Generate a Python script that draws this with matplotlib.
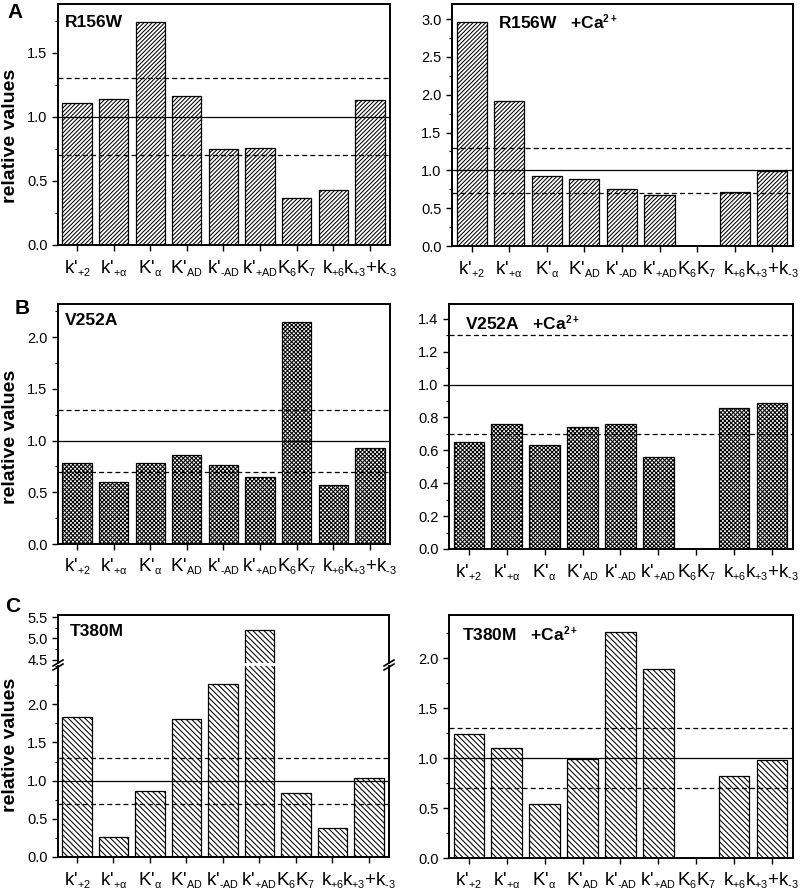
import numpy as np
import matplotlib
matplotlib.use("Agg")
import matplotlib.pyplot as plt
import matplotlib._mathtext as mt
from matplotlib.ticker import MultipleLocator, FixedLocator, FormatStrFormatter

plt.rcParams["font.family"] = ["Liberation Sans", "DejaVu Sans"]
plt.rcParams["mathtext.fontset"] = "custom"
plt.rcParams["mathtext.rm"] = "Liberation Sans"
plt.rcParams["mathtext.it"] = "Liberation Sans"
plt.rcParams["mathtext.bf"] = "Liberation Sans:bold"
plt.rcParams["hatch.linewidth"] = 0.75
# smaller subscripts, closer to the original typesetting
mt.SHRINK_FACTOR = 0.58

# ------------------------------------------------------------
# data
# ------------------------------------------------------------
labels = ["k'$_{+2}$", "k'$_{+α}$", "K'$_{α}$", "K'$_{AD}$", "k'$_{\\text{-}AD}$",
          "k'$_{+AD}$", "K$_6$K$_7$", "k$_{+6}$", "k$_{+3}$+k$_{\\text{-}3}$"]

r156w = [1.11, 1.14, 1.74, 1.16, 0.75, 0.76, 0.37, 0.43, 1.13]
r156w_ca = [2.96, 1.92, 0.92, 0.88, 0.75, 0.67, np.nan, 0.72, 0.99]
v252a = [0.78, 0.60, 0.78, 0.86, 0.76, 0.65, 2.15, 0.57, 0.93]
v252a_ca = [0.65, 0.76, 0.63, 0.74, 0.76, 0.56, np.nan, 0.86, 0.89]
t380m = [1.83, 0.26, 0.86, 1.80, 2.26, 5.19, 0.84, 0.38, 1.04]
t380m_ca = [1.24, 1.10, 0.54, 0.99, 2.26, 1.89, np.nan, 0.82, 0.98]

ref_solid = 1.0
ref_dashed = [1.3, 0.7]

W, H = 800, 891
fig = plt.figure(figsize=(W / 100, H / 100), dpi=100)


def px_axes(x0, y0, x1, y1):
    """axes from pixel box (top-left origin)"""
    return fig.add_axes([x0 / W, 1 - y1 / H, (x1 - x0) / W, (y1 - y0) / H])


def style(ax, major, minor, ymax, ymin=0.0):
    x = np.arange(len(labels))
    ax.set_xlim(-0.52, 8.55)
    ax.set_ylim(ymin, ymax)
    ax.set_xticks(x)
    ax.set_xticklabels(labels, fontsize=13.5)
    ax.yaxis.set_major_locator(MultipleLocator(major))
    ax.yaxis.set_minor_locator(MultipleLocator(minor))
    ax.yaxis.set_major_formatter(FormatStrFormatter("%.1f"))
    ax.tick_params(axis="y", which="major", direction="out", length=4, width=1,
                   labelsize=10.5, right=False)
    ax.tick_params(axis="y", which="minor", direction="out", length=2, width=0.8, right=False)
    ax.tick_params(axis="x", direction="out", length=4, width=1, pad=5, top=False)
    for s in ax.spines.values():
        s.set_linewidth(1.4)


def bars(ax, vals, hatch):
    x = np.arange(len(labels))
    ax.bar(x, vals, width=0.8, color="white", edgecolor="black",
           linewidth=0.9, hatch=hatch, zorder=2)


def ref_lines(ax):
    ax.axhline(ref_solid, color="black", lw=0.9, zorder=3)
    for v in ref_dashed:
        ax.axhline(v, color="black", lw=0.9, ls=(0, (4, 2.5)), zorder=3)


HATCH_A = "/" * 8
HATCH_B = "x" * 8
HATCH_C = "\\" * 6

# ---------------- row A ----------------
ax = px_axes(58, 4, 390, 245)
bars(ax, r156w, HATCH_A)
ref_lines(ax)
style(ax, 0.5, 0.25, 1.88)
ax.text(0.02, 0.925, "R156W", transform=ax.transAxes, fontsize=12.5,
        fontweight="bold", va="center")

ax = px_axes(452, 4, 793, 246)
bars(ax, r156w_ca, HATCH_A)
ref_lines(ax)
style(ax, 0.5, 0.25, 3.2)
ax.text(0.135, 0.925, "R156W   +Ca$^{\\mathbf{2+}}$", transform=ax.transAxes,
        fontsize=12.5, fontweight="bold", va="center")

# ---------------- row B ----------------
ax = px_axes(58, 304, 390, 544)
bars(ax, v252a, HATCH_B)
ref_lines(ax)
style(ax, 0.5, 0.25, 2.32)
ax.text(0.02, 0.93, "V252A", transform=ax.transAxes, fontsize=12.5,
        fontweight="bold", va="center")

ax = px_axes(449, 304, 793, 549)
bars(ax, v252a_ca, HATCH_B)
ref_lines(ax)
style(ax, 0.2, 0.1, 1.49)
ax.text(0.047, 0.92, "V252A   +Ca$^{\\mathbf{2+}}$", transform=ax.transAxes,
        fontsize=12.5, fontweight="bold", va="center")

# ---------------- row C (broken axis on the left) ----------------
ax_lo = px_axes(58, 666, 389, 857)
bars(ax_lo, t380m, HATCH_C)
ref_lines(ax_lo)
style(ax_lo, 0.5, 0.25, 2.5)
ax_lo.yaxis.set_major_locator(FixedLocator([0, 0.5, 1.0, 1.5, 2.0]))
ax_lo.spines["top"].set_visible(False)

ax_hi = px_axes(58, 615, 389, 663)
bars(ax_hi, t380m, HATCH_C)
style(ax_hi, 0.5, 0.25, 5.55, ymin=4.42)
ax_hi.yaxis.set_major_locator(FixedLocator([4.5, 5.0, 5.5]))
ax_hi.spines["bottom"].set_visible(False)
ax_hi.tick_params(axis="x", bottom=False, labelbottom=False)
ax_hi.text(0.036, 0.65, "T380M", transform=ax_hi.transAxes, fontsize=12.5,
           fontweight="bold", va="center")

# break marks on both spines
for xp in (58, 389):
    for dy in (-2, 2):
        fig.add_artist(plt.Line2D([(xp - 5) / W, (xp + 5) / W],
                                  [1 - (665 + dy + 3) / H, 1 - (665 + dy - 3) / H],
                                  color="black", lw=1.2))

ax = px_axes(449, 615, 793, 858)
bars(ax, t380m_ca, HATCH_C)
ref_lines(ax)
style(ax, 0.5, 0.25, 2.43)
ax.text(0.038, 0.92, "T380M   +Ca$^{\\mathbf{2+}}$", transform=ax.transAxes,
        fontsize=12.5, fontweight="bold", va="center")

# ---------------- labels ----------------
for ycen in (136, 437, 745):
    fig.text(11 / W, 1 - ycen / H, "relative values", rotation=90, fontsize=14,
             fontweight="bold", ha="center", va="center")

for letter, (lx, ly) in zip("ABC", [(15, 12), (22, 309), (13, 607)]):
    fig.text(lx / W, 1 - ly / H, letter, fontsize=15, fontweight="bold",
             ha="center", va="center")

fig.savefig("out.png", dpi=100)
